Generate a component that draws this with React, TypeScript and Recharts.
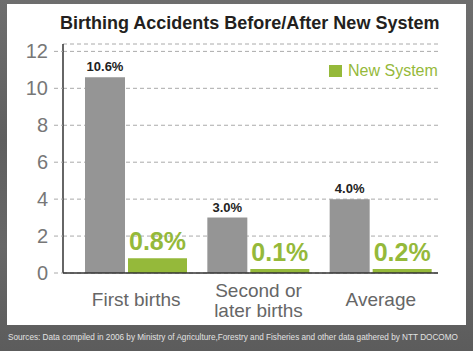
import React from 'react';
import { BarChart, Bar, XAxis, YAxis, CartesianGrid, LabelList } from 'recharts';

const categories = ['First births', 'Second or\nlater births', 'Average'];
const beforeValues = [10.6, 3.0, 4.0];
const afterValues = [0.8, 0.1, 0.2];
const yTicks = [0, 2, 4, 6, 8, 10, 12];

const data = categories.map((name, i) => ({ name, before: beforeValues[i], after: afterValues[i] }));

const FONT = '"Liberation Sans", Arial, Helvetica, sans-serif';
const GREEN = '#95b93a';
const GRAY = '#959595';

const CategoryTick = (props: any) => {
  const { x, y, payload } = props;
  const lines: string[] = String(payload.value).split('\n');
  const first = lines.length > 1 ? 24 : 33;
  return (
    <g>
      {lines.map((line, i) => (
        <text key={i} x={x} y={y + first + i * 20} textAnchor="middle" fill="#666" fontSize={19} fontFamily={FONT}>
          {line}
        </text>
      ))}
    </g>
  );
};

const pct = (v: any) => `${Number(v).toFixed(1)}%`;

export default function App() {
  return (
    <div
      style={{
        position: 'fixed',
        left: 0,
        top: 0,
        width: 473,
        height: 351,
        background: 'linear-gradient(#6e6e6e, #5f5f5f 40%, #676767 70%, #5c5c5c)',
        overflow: 'hidden',
        fontFamily: FONT,
      }}
    >
      <div style={{ position: 'absolute', left: 7, top: 4, width: 459, height: 321, background: '#fff' }} />
      <div
        style={{
          position: 'absolute',
          left: 60,
          top: 13,
          fontSize: 18,
          fontWeight: 'bold',
          color: '#231f20',
          whiteSpace: 'nowrap',
        }}
      >
        Birthing Accidents Before/After New System
      </div>
      <div style={{ position: 'absolute', left: 0, top: 0 }}>
        <BarChart
          width={473}
          height={351}
          data={data}
          margin={{ top: 44, right: 35, bottom: 0, left: 23 }}
          barGap={3}
        >
          <CartesianGrid vertical={false} stroke="#aaa" strokeDasharray="4 3" />
          <XAxis
            dataKey="name"
            axisLine={{ stroke: '#333', strokeWidth: 1.5 }}
            tickLine={false}
            tickSize={0}
            tickMargin={0}
            padding={{ left: 12, right: -4 }}
            tick={<CategoryTick />}
            interval={0}
            height={78}
          />
          <YAxis
            width={40}
            domain={[0, 12.4]}
            ticks={yTicks}
            interval={0}
            axisLine={{ stroke: '#333', strokeWidth: 1.5 }}
            tickLine={{ stroke: '#aaa', strokeDasharray: '4 3' }}
            tickSize={9}
            tickMargin={6}
            tick={{ fill: '#777', fontSize: 20, fontFamily: FONT }}
          />
          <Bar dataKey="before" name="Before" fill={GRAY} barSize={40} isAnimationActive={false}>
            <LabelList dataKey="before" position="top" offset={6} formatter={pct} fill="#222" fontSize={13} fontWeight="bold" fontFamily={FONT} />
          </Bar>
          <Bar dataKey="after" name="New System" fill={GREEN} barSize={59} minPointSize={4} isAnimationActive={false}>
            <LabelList dataKey="after" position="top" offset={8} formatter={pct} fill={GREEN} fontSize={25} fontWeight="bold" fontFamily={FONT} />
          </Bar>
        </BarChart>
      </div>
      <div style={{ position: 'absolute', left: 329, top: 63, display: 'flex', alignItems: 'center' }}>
        <div style={{ width: 13, height: 12, background: GREEN, marginRight: 6 }} />
        <span style={{ color: GREEN, fontSize: 16, lineHeight: '16px' }}>New System</span>
      </div>
      <div
        style={{
          position: 'absolute',
          left: 8,
          top: 333,
          fontSize: 8.2,
          color: '#e2e2e2',
          whiteSpace: 'nowrap',
        }}
      >
        Sources: Data compiled in 2006 by Ministry of Agriculture,Forestry and Fisheries and other data gathered by NTT DOCOMO
      </div>
    </div>
  );
}
